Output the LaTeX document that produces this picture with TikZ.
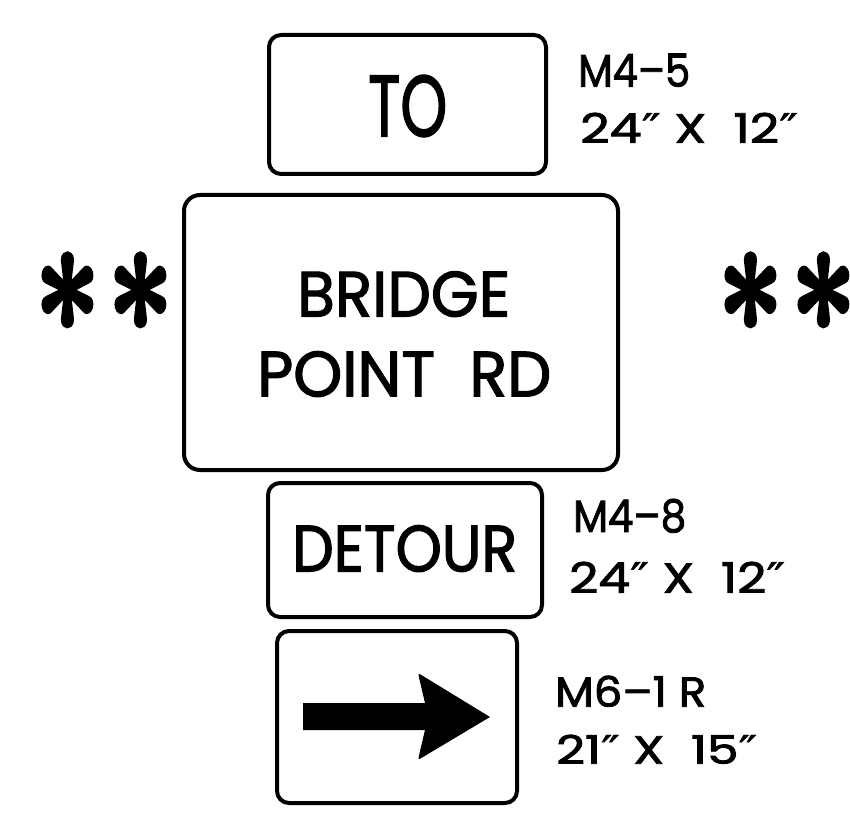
\documentclass[tikz,border=0pt]{standalone}
\usepackage{fontspec}
\usepackage{graphicx}
\newfontfamily\signfont{Poppins}[FakeBold=2]
\newfontfamily\primefont{DejaVu Sans}[FakeBold=1]
\newfontfamily\starfont{Latin Modern Roman}[FakeBold=3]
\newcommand\dpr{{\primefont ″}}
\newcommand\bigstar{\scalebox{1}[1.4]{\fontsize{116}{116}\starfont\bfseries *}}
\tikzset{
  signbox/.style={draw, line width=4pt, rounded corners=12pt, inner sep=0pt, fill=white},
  signtext/.style={anchor=south west, inner sep=0pt, font=\signfont},
  starmark/.style={anchor=base west, inner sep=0pt}
}
\begin{document}
\begin{tikzpicture}[x=1pt,y=-1pt]
\useasboundingbox (0,0) rectangle (850,826);
% sign panels
\node[signbox, minimum width=277pt, minimum height=139pt] (boxto) at (407.5,104.5) {};
\node[signbox, rounded corners=16pt, minimum width=434pt, minimum height=275pt] (boxroad) at (401,332.5) {};
\node[signbox, minimum width=274pt, minimum height=134pt] (boxdetour) at (405,550) {};
\node[signbox, minimum width=240pt, minimum height=172pt] (boxarrow) at (397,717) {};
% sign legends
\node[signtext] (tto) at (368,137) {\resizebox{79pt}{61pt}{TO}};
\node[signtext] (tbridge) at (297,317) {\resizebox{213pt}{45pt}{BRIDGE}};
\node[signtext] (tpoint) at (257,397) {\resizebox{294pt}{45pt}{POINT\hspace{0.55em}RD}};
\node[signtext] (tdetour) at (292,572) {\resizebox{225pt}{46pt}{DETOUR}};
% arrow
\fill[black] (303,703) -- (425,703) -- (419.1,677.9) .. controls (418,673) .. (422.3,675.6)
  -- (490,717) -- (422.3,757.4) .. controls (418,760) .. (419.1,755.1)
  -- (425,730) -- (303,730) -- cycle;
% labels
\node[signtext] (la1) at (578,87) {\resizebox{112pt}{33pt}{M4–5}};
\node[signtext] (la2) at (580,143) {\resizebox{218pt}{30pt}{24\dpr\ X\ \ 12\dpr}};
\node[signtext] (lb1) at (573,533) {\resizebox{113pt}{33pt}{M4–8}};
\node[signtext] (lb2) at (569,593) {\resizebox{216pt}{31pt}{24\dpr\ X\ \ 12\dpr}};
\node[signtext] (lc1) at (555,707) {\resizebox{151pt}{31pt}{M6–1 R}};
\node[signtext] (lc2) at (556,764) {\resizebox{201pt}{29pt}{21\dpr\ X\ \ 15\dpr}};
% asterisks
\node[starmark] (starl1) at (34.7,375.6) {\bigstar};
\node[starmark] (starl2) at (107.7,375.6) {\bigstar};
\node[starmark] (starr1) at (717.7,375.6) {\bigstar};
\node[starmark] (starr2) at (790.7,375.6) {\bigstar};
\end{tikzpicture}
\end{document}
